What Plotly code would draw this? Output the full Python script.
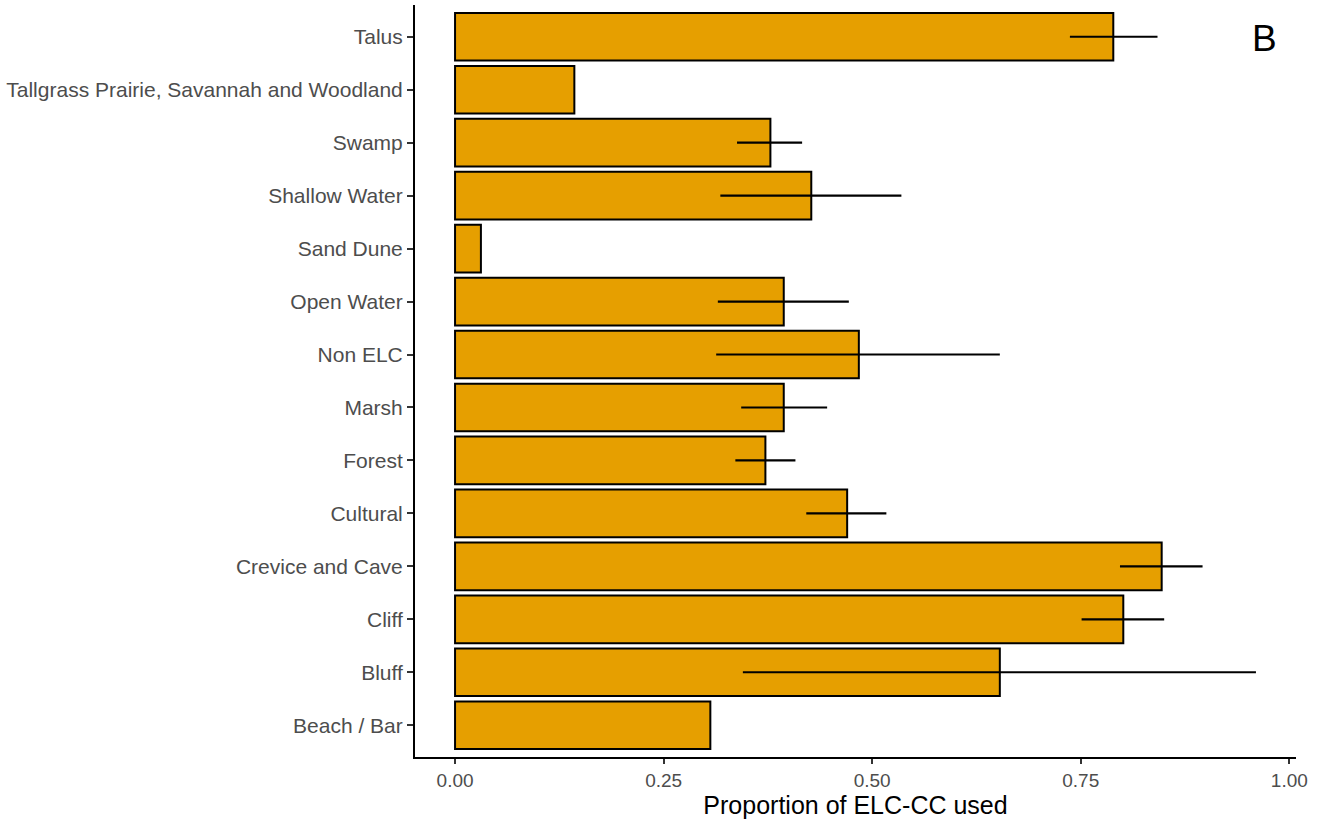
import plotly.graph_objects as go

# Habitat classes (bottom to top) and the proportion of ELC-CC used
habitats = [
    "Beach / Bar", "Bluff", "Cliff", "Crevice and Cave", "Cultural", "Forest",
    "Marsh", "Non ELC", "Open Water", "Sand Dune", "Shallow Water", "Swamp",
    "Tallgrass Prairie, Savannah and Woodland", "Talus",
]
proportion = [0.306, 0.653, 0.801, 0.847, 0.470, 0.372,
              0.394, 0.484, 0.394, 0.031, 0.427, 0.378,
              0.143, 0.789]
lower = [None, 0.345, 0.751, 0.797, 0.421, 0.336,
         0.343, 0.313, 0.315, None, 0.318, 0.338,
         None, 0.737]
upper = [None, 0.960, 0.850, 0.896, 0.517, 0.408,
         0.446, 0.653, 0.472, None, 0.535, 0.416,
         None, 0.842]

err_plus = [None if u is None else u - p for p, u in zip(proportion, upper)]
err_minus = [None if l is None else p - l for p, l in zip(proportion, lower)]

fig = go.Figure(
    go.Bar(
        x=proportion,
        y=habitats,
        orientation="h",
        width=0.9,
        marker=dict(color="#E69F00", line=dict(color="black", width=2)),
        error_x=dict(
            type="data",
            symmetric=False,
            array=err_plus,
            arrayminus=err_minus,
            color="black",
            thickness=2.2,
            width=0,
        ),
        showlegend=False,
    )
)

fig.update_layout(
    width=1326,
    height=819,
    margin=dict(l=415, r=30, t=5, b=62),
    paper_bgcolor="white",
    plot_bgcolor="white",
    font=dict(family="Liberation Sans, Arial, sans-serif"),
    bargap=0.1,
)

fig.update_xaxes(
    range=[-0.048, 1.008],
    tickvals=[0, 0.25, 0.5, 0.75, 1.0],
    ticktext=["0.00", "0.25", "0.50", "0.75", "1.00"],
    showgrid=False,
    zeroline=False,
    showline=True,
    linecolor="black",
    linewidth=2,
    ticks="outside",
    ticklen=5,
    tickwidth=1.5,
    tickcolor="#333333",
    tickfont=dict(size=19, color="#4D4D4D"),
    title=dict(text="Proportion of ELC-CC used", font=dict(size=25, color="black"), standoff=6),
)
fig.update_yaxes(
    categoryorder="array",
    categoryarray=habitats,
    range=[-0.6, len(habitats) - 0.4],
    showgrid=False,
    zeroline=False,
    showline=True,
    linecolor="black",
    linewidth=2,
    ticks="outside",
    ticklen=6,
    tickwidth=1.5,
    tickcolor="#333333",
    tickfont=dict(size=21, color="#4D4D4D"),
)

fig.add_annotation(
    text="B",
    x=0.9648,
    y=0.956,
    xref="paper",
    yref="paper",
    xanchor="center",
    yanchor="middle",
    showarrow=False,
    font=dict(size=37, color="black"),
)

fig.write_html("out.html")
